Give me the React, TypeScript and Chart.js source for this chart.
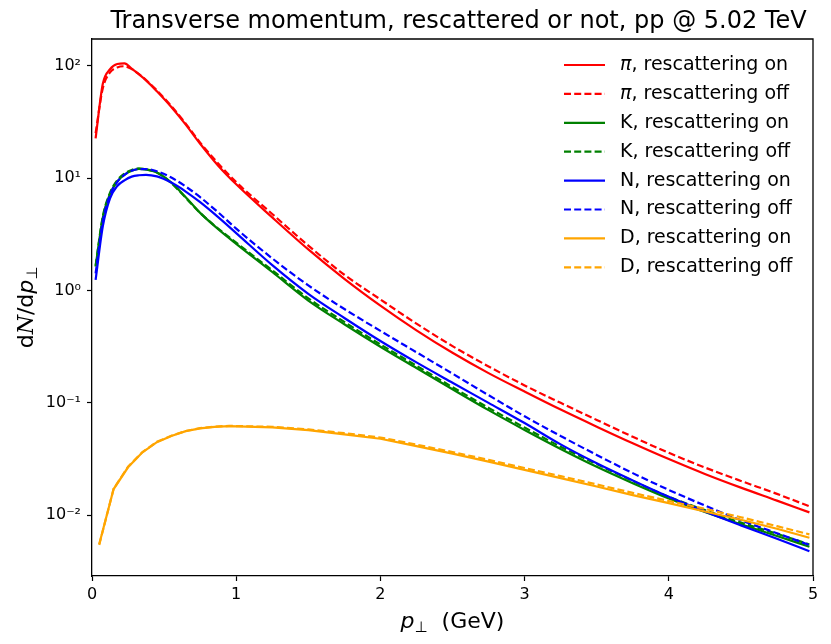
import React, { useRef, useEffect } from 'react';
import { Chart, registerables } from 'chart.js';

Chart.register(...registerables);

// pT bin centres (GeV)
const ptFine = [0.025, 0.075, 0.125, 0.175, 0.225, 0.275, 0.325, 0.375, 0.45, 0.55, 0.65, 0.75, 0.875, 1.0,
  1.25, 1.5, 1.75, 2.0, 2.25, 2.5, 2.75, 3.0, 3.25, 3.5, 3.75, 4.0, 4.25, 4.5, 4.75, 4.975];
const ptCoarse = [0.05, 0.15, 0.25, 0.35, 0.45, 0.55, 0.65, 0.75, 0.85, 0.95, 1.25, 1.5, 1.75, 2.0,
  2.25, 2.5, 2.75, 3.0, 3.25, 3.5, 3.75, 4.0, 4.25, 4.5, 4.75, 4.975];

const piOn = [22.6, 69, 93, 103.5, 104.7, 94.4, 84.1, 74.1, 59.2, 42.9, 29.9, 20.2, 12.9, 8.81,
  4.47, 2.32, 1.27, 0.733, 0.442, 0.279, 0.184, 0.126, 0.0871, 0.0614, 0.0437, 0.0316, 0.0233, 0.0176, 0.0135, 0.0106];
const piOff = [25.1, 63, 87, 96.6, 98.9, 93.3, 84.1, 74.5, 60.3, 43.7, 30.5, 20.7, 13.5, 9.2,
  4.79, 2.51, 1.38, 0.832, 0.507, 0.32, 0.211, 0.143, 0.1, 0.0705, 0.0499, 0.0359, 0.0266, 0.0202, 0.0155, 0.012];
const kOn = [1.63, 4.47, 7.24, 9.33, 10.7, 11.6, 12.05, 11.9, 11.2, 9.12, 6.76, 4.9, 3.51, 2.6,
  1.46, 0.813, 0.501, 0.316, 0.204, 0.132, 0.0861, 0.0574, 0.0389, 0.027, 0.0193, 0.0141, 0.0107, 0.00832, 0.00653, 0.00525];
const kOff = [1.66, 4.57, 7.41, 9.55, 10.96, 11.8, 12.2, 12.0, 11.2, 9.02, 6.68, 4.9, 3.55, 2.66,
  1.51, 0.851, 0.525, 0.331, 0.214, 0.138, 0.0902, 0.0603, 0.0407, 0.0285, 0.0202, 0.0146, 0.0111, 0.0086, 0.00684, 0.0055];
const nOn = [1.24, 3.72, 6.61, 8.51, 9.55, 10.3, 10.6, 10.7, 10.35, 9.12, 7.59, 6.1, 4.49, 3.24,
  1.68, 0.933, 0.569, 0.355, 0.229, 0.151, 0.1, 0.0661, 0.0427, 0.029, 0.0204, 0.0146, 0.0108, 0.00813, 0.00617, 0.00479];
const nOff = [1.42, 4.17, 7.08, 9.23, 10.7, 11.6, 12.0, 12.0, 11.5, 10.1, 8.41, 6.76, 4.95, 3.55,
  1.93, 1.11, 0.684, 0.437, 0.282, 0.182, 0.117, 0.0759, 0.0507, 0.0344, 0.0237, 0.0168, 0.0122, 0.00902, 0.00692, 0.00543];
const dOn = [0.00552, 0.0171, 0.0267, 0.0363, 0.0447, 0.0508, 0.056, 0.0592, 0.0611, 0.0621, 0.0605, 0.0571, 0.0525,
  0.0479, 0.0412, 0.0353, 0.03, 0.0253, 0.0214, 0.018, 0.0151, 0.0128, 0.0108, 0.00912, 0.00759, 0.00631];
const dOff = [0.00545, 0.0172, 0.027, 0.0365, 0.045, 0.051, 0.0562, 0.0595, 0.0615, 0.0624, 0.0612, 0.058, 0.0537,
  0.0492, 0.0425, 0.0365, 0.0311, 0.0263, 0.0223, 0.0188, 0.0158, 0.0134, 0.0114, 0.0096, 0.008, 0.00676];

const particles = ['π', 'K', 'N', 'D'];
const colours = ['#ff0000', '#008000', '#0000ff', '#ffa500'];
const yTicks = [0.01, 0.1, 1, 10, 100];
const yTickLabels = ['10⁻²', '10⁻¹', '10⁰', '10¹', '10²'];
const title = 'Transverse momentum, rescattered or not, pp @ 5.02 TeV';

const FONT = '"DejaVu Sans", sans-serif';

const toPoints = (xs: number[], ys: number[]) => ys.map((y, i) => ({ x: xs[i], y }));

// draws a run of text pieces (font / vertical shift) centred on cx
const drawPieces = (ctx: any, pieces: any[], cx: number, baseY: number) => {
  let total = 0;
  pieces.forEach(p => { ctx.font = p.font; total += ctx.measureText(p.text).width; });
  let x = cx - total / 2;
  ctx.textAlign = 'left';
  ctx.textBaseline = 'alphabetic';
  pieces.forEach(p => {
    ctx.font = p.font;
    ctx.fillText(p.text, x, baseY + (p.dy || 0));
    x += ctx.measureText(p.text).width;
  });
};

const decorPlugin = {
  id: 'decor',
  afterDraw(chart: any) {
    const { ctx, chartArea: a } = chart;
    ctx.save();
    // top and right spines
    ctx.strokeStyle = '#000';
    ctx.lineWidth = 1.3;
    ctx.beginPath();
    ctx.moveTo(a.left, a.top);
    ctx.lineTo(a.right, a.top);
    ctx.lineTo(a.right, a.bottom);
    ctx.stroke();

    ctx.fillStyle = '#000';
    ctx.font = `24px ${FONT}`;
    ctx.textAlign = 'center';
    ctx.textBaseline = 'alphabetic';
    ctx.fillText(title, (a.left + a.right) / 2 + 6, 28);

    // legend
    chart.data.datasets.forEach((ds: any, i: number) => {
      const y = a.top + 26 + i * 28.9;
      ctx.strokeStyle = ds.borderColor;
      ctx.lineWidth = ds.borderWidth;
      ctx.setLineDash(ds.borderDash || []);
      ctx.beginPath();
      ctx.moveTo(a.right - 249, y);
      ctx.lineTo(a.right - 208, y);
      ctx.stroke();
      ctx.setLineDash([]);
      const [name, rest] = ds.label.split('|');
      ctx.fillStyle = '#000';
      ctx.textBaseline = 'middle';
      ctx.textAlign = 'left';
      ctx.font = name === 'π' ? `italic 19px ${FONT}` : `19px ${FONT}`;
      const x0 = a.right - 193;
      ctx.fillText(name, x0, y);
      const w = ctx.measureText(name).width;
      ctx.font = `19px ${FONT}`;
      ctx.fillText(rest, x0 + w, y);
    });

    // x axis label
    ctx.fillStyle = '#000';
    drawPieces(ctx, [
      { text: 'p', font: `italic 22px ${FONT}` },
      { text: '⊥', font: `15px ${FONT}`, dy: 4 },
      { text: '  (GeV)', font: `22px ${FONT}` },
    ], (a.left + a.right) / 2, 628);

    // y axis label
    ctx.translate(25, (a.top + a.bottom) / 2);
    ctx.rotate(-Math.PI / 2);
    drawPieces(ctx, [
      { text: 'd', font: `22px ${FONT}` },
      { text: 'N', font: `italic 22px "DejaVu Serif", serif` },
      { text: '/d', font: `22px ${FONT}` },
      { text: 'p', font: `italic 22px ${FONT}` },
      { text: '⊥', font: `15px ${FONT}`, dy: 4 },
    ], 0, 8);
    ctx.restore();
  },
};

const series = [
  { on: piOn, off: piOff, pts: ptFine, smooth: true },
  { on: kOn, off: kOff, pts: ptFine, smooth: true },
  { on: nOn, off: nOff, pts: ptFine, smooth: true },
  { on: dOn, off: dOff, pts: ptCoarse, smooth: false },
];

const App = () => {
  const canvasRef = useRef<any>(null);
  const chartRef = useRef<any>(null);

  useEffect(() => {
    document.body.style.margin = '0';
    if (!canvasRef.current) return;
    const ctx = canvasRef.current.getContext('2d');
    if (chartRef.current) chartRef.current.destroy();

    const datasets: any[] = [];
    series.forEach((s, k) => {
      ['on', 'off'].forEach((state, j) => {
        datasets.push({
          label: `${particles[k]}|, rescattering ${state}`,
          data: toPoints(s.pts, state === 'on' ? s.on : s.off),
          borderColor: colours[k],
          backgroundColor: colours[k],
          borderWidth: 2.2,
          borderDash: j === 1 ? [7, 3.2] : [],
          pointRadius: 0,
          cubicInterpolationMode: s.smooth ? 'monotone' : 'default',
          tension: 0,
          fill: false,
          order: 7 - datasets.length,
        });
      });
    });

    chartRef.current = new Chart(ctx, {
      type: 'line',
      data: { datasets },
      options: {
        animation: false,
        responsive: false,
        devicePixelRatio: 1,
        layout: { padding: { top: 39, right: 18, left: 0, bottom: 0 } },
        plugins: { legend: { display: false }, tooltip: { enabled: false }, title: { display: false } },
        scales: {
          x: {
            type: 'linear',
            min: 0,
            max: 5,
            ticks: { stepSize: 1, color: '#000', font: { family: FONT, size: 16 }, padding: 4, maxRotation: 0 },
            grid: { drawOnChartArea: false, tickLength: 5, color: '#000', tickColor: '#000', tickWidth: 1.2 },
            border: { display: true, color: '#000', width: 1.3 },
            afterFit: (scale: any) => { scale.height = 68; },
          },
          y: {
            type: 'logarithmic',
            min: 0.00288,
            max: 172.8,
            afterBuildTicks: (scale: any) => { scale.ticks = yTicks.map(v => ({ value: v, major: true })); },
            ticks: {
              color: '#000',
              font: { family: FONT, size: 16 },
              padding: 6,
              callback: (value: any) => {
                const i = yTicks.findIndex(t => Math.abs(Math.log10(t) - Math.log10(value)) < 1e-6);
                return i >= 0 ? yTickLabels[i] : '';
              },
            },
            grid: { drawOnChartArea: false, tickLength: 5, color: '#000', tickColor: '#000', tickWidth: 1.2 },
            border: { display: true, color: '#000', width: 1.3 },
            afterFit: (scale: any) => { scale.width = 92; },
          },
        },
      },
      plugins: [decorPlugin],
    });

    return () => {
      if (chartRef.current) {
        chartRef.current.destroy();
        chartRef.current = null;
      }
    };
  }, []);

  return (
    <div style={{ width: 831, height: 644 }}>
      <canvas ref={canvasRef} width={831} height={644} style={{ display: 'block', width: 831, height: 644 }} />
    </div>
  );
};

export default App;
